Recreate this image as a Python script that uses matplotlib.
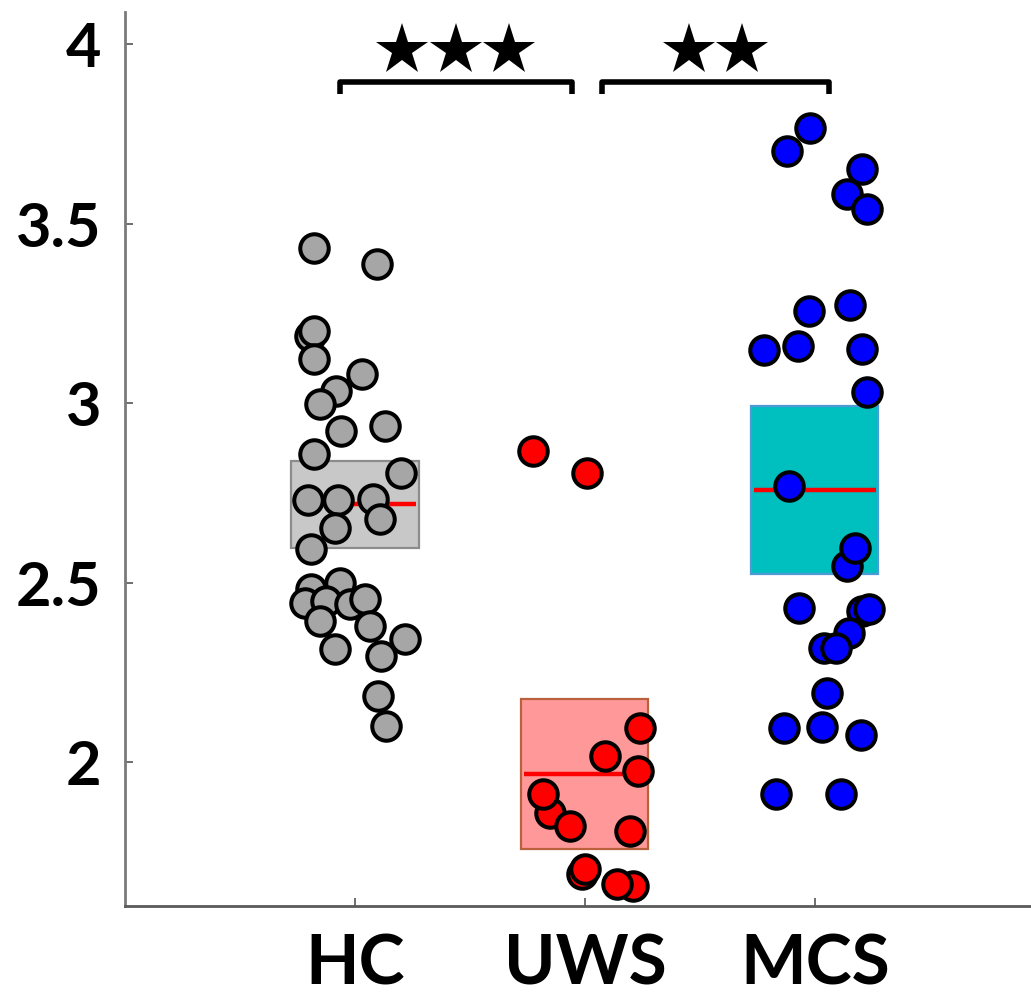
import matplotlib
matplotlib.use("Agg")
import matplotlib.pyplot as plt

# ---------------- data ----------------
categories = ["HC", "UWS", "MCS"]

hc_values = [3.434, 3.387, 3.187, 3.201, 3.123, 3.081, 3.034, 2.997, 2.923, 2.937,
             2.858, 2.805, 2.730, 2.730, 2.733, 2.677, 2.654, 2.595, 2.482, 2.501,
             2.445, 2.449, 2.440, 2.454, 2.394, 2.380, 2.345, 2.315, 2.296, 2.185, 2.101]
hc_jitter = [-0.176, 0.096, -0.197, -0.176, -0.176, 0.032, -0.081, -0.154, -0.062, 0.129,
             -0.179, 0.202, -0.205, -0.074, 0.078, 0.108, -0.088, -0.193, -0.190, -0.067,
             -0.219, -0.125, -0.023, 0.042, -0.154, 0.064, 0.217, -0.088, 0.115, 0.100, 0.136]

uws_values = [2.867, 2.807, 2.097, 2.019, 1.976, 1.860, 1.911, 1.823, 1.809, 1.688,
              1.702, 1.655, 1.660]
uws_jitter = [-0.224, 0.008, 0.240, 0.088, 0.233, -0.152, -0.181, -0.064, 0.197, -0.014,
              0.001, 0.211, 0.139]

mcs_values = [3.768, 3.703, 3.654, 3.584, 3.540, 3.257, 3.273, 3.148, 3.160, 3.150,
              3.031, 2.770, 2.547, 2.598, 2.431, 2.421, 2.426, 2.361, 2.319, 2.319,
              2.194, 2.097, 2.099, 2.075, 1.911, 1.911]
mcs_jitter = [-0.019, -0.121, 0.203, 0.141, 0.228, -0.026, 0.151, -0.222, -0.073, 0.203,
              0.228, -0.113, 0.141, 0.174, -0.070, 0.205, 0.235, 0.148, 0.039, 0.090,
              0.054, -0.135, 0.029, 0.199, -0.169, 0.112]

box_q1 = [2.598, 1.758, 2.524]
box_median = [2.719, 1.967, 2.758]
box_q3 = [2.839, 2.176, 2.992]

yticks = [2, 2.5, 3, 3.5, 4]
ytick_labels = ["2", "2.5", "3", "3.5", "4"]

# significance brackets: (group a, group b, number of stars)
comparisons = [(1, 2, 3), (2, 3, 2)]

# ---------------- style ----------------
point_colors = ["#a6a6a6", "#ff0000", "#0000ff"]
box_faces = ["#c8c8c8", "#ff9999", "#00bfbf"]
box_edges = ["#8c8c8c", "#b9603c", "#4d9ad6"]

plt.rcParams["font.family"] = ["Lato", "DejaVu Sans"]
plt.rcParams["font.weight"] = "bold"

fig = plt.figure(figsize=(10.31, 9.96), dpi=100)
ax = fig.add_axes([125 / 1031, 1 - 906 / 996, (1031 - 125) / 1031, (906 - 12) / 996])

positions = [1, 2, 3]
box_w = 0.553

# boxes
for i, p in enumerate(positions):
    ax.bar(p, box_q3[i] - box_q1[i], bottom=box_q1[i], width=box_w,
           color=box_faces[i], edgecolor=box_edges[i], linewidth=1.6, zorder=1)
    ax.hlines(box_median[i], p - box_w / 2 + 0.01, p + box_w / 2 - 0.01,
              colors="#ff0000", linewidth=3.2, zorder=2)

# points
groups = [(hc_values, hc_jitter), (uws_values, uws_jitter), (mcs_values, mcs_jitter)]
for i, (vals, jit) in enumerate(groups):
    for v, j in zip(vals, jit):
        ax.plot(positions[i] + j, v, "o", ms=20.5, mfc=point_colors[i],
                mec="black", mew=2.9, zorder=3)

# significance brackets and stars
bar_y = 3.896
tip = 0.034
star_y = 3.985
star_step = 0.232
for a, b, n in comparisons:
    xa = a - 0.067 if a == 1 else a + 0.073
    xb = b - 0.058 if b == 2 else b + 0.061
    ax.plot([xa, xa, xb, xb], [bar_y - tip, bar_y, bar_y, bar_y - tip],
            color="black", linewidth=4.0, solid_joinstyle="round",
            solid_capstyle="butt", zorder=4, clip_on=False)
    mid = (xa + xb) / 2
    for k in range(n):
        sx = mid + (k - (n - 1) / 2) * star_step
        ax.plot(sx, star_y, marker="*", ms=39, color="black", mew=0,
                zorder=4, clip_on=False)

# axes
ax.set_xlim(0, 3.94)
ax.set_ylim(1.6, 4.09)
ax.set_xticks(positions)
ax.set_xticklabels(categories, fontsize=50, fontweight="bold")
ax.set_yticks(yticks)
ax.set_yticklabels(ytick_labels, fontsize=44, fontweight="bold")
ax.tick_params(axis="both", direction="in", length=6, width=1.2, colors="#555555",
               labelcolor="black")
ax.tick_params(axis="y", pad=17)
ax.tick_params(axis="x", pad=20)
for s in ["top", "right"]:
    ax.spines[s].set_visible(False)
ax.spines["left"].set_color("#7a7a7a")
ax.spines["bottom"].set_color("#5a5a5a")
ax.spines["left"].set_linewidth(2.0)
ax.spines["bottom"].set_linewidth(2.0)

fig.savefig("out.png", dpi=100, facecolor="white")
